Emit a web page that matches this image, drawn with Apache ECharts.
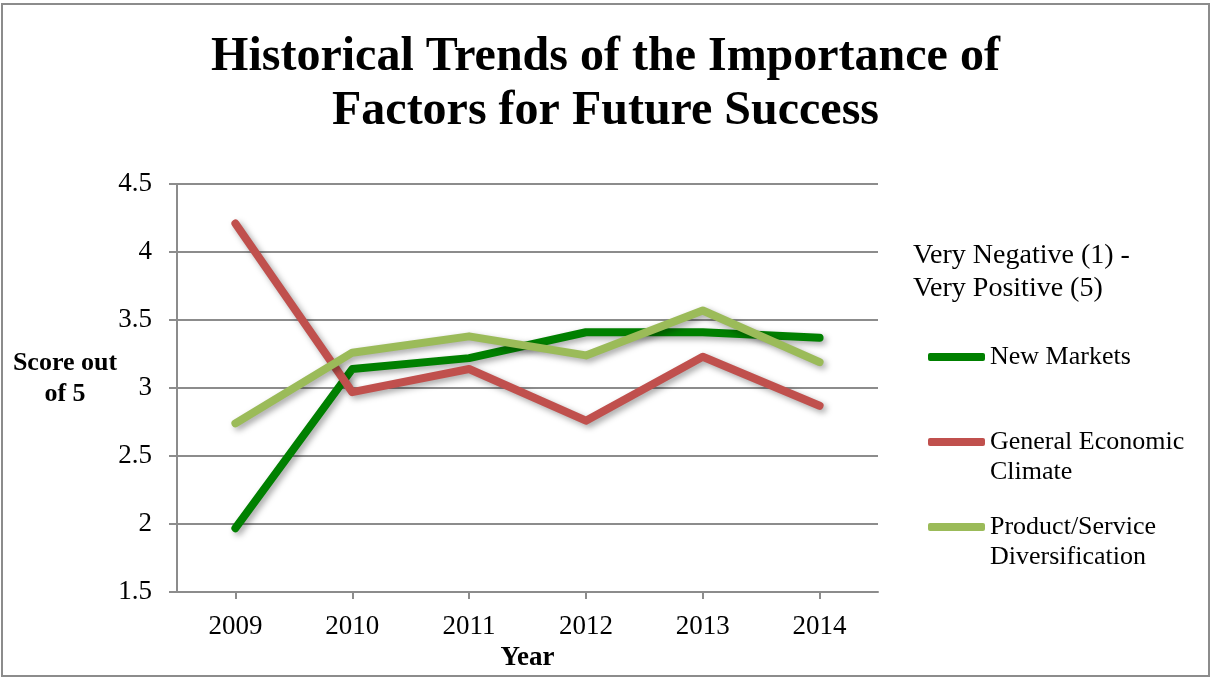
<!DOCTYPE html>
<html>
<head>
<meta charset="utf-8">
<title>Historical Trends of the Importance of Factors for Future Success</title>
<script src="https://cdn.jsdelivr.net/npm/echarts@6/dist/echarts.min.js"></script>
<style>
  html, body { margin: 0; padding: 0; background: #fff; }
  #chart { width: 1211px; height: 677px; }
</style>
</head>
<body>
<div id="chart"></div>
<script>
// Survey years
const years = ['2009', '2010', '2011', '2012', '2013', '2014'];

// Average score per factor, 1 = very negative, 5 = very positive
const newMarkets = [1.97, 3.14, 3.22, 3.41, 3.41, 3.37];
const economicClimate = [4.21, 2.97, 3.14, 2.76, 3.23, 2.87];
const diversification = [2.74, 3.26, 3.38, 3.24, 3.57, 3.19];

// Value axis range and step
const yMin = 1.5;
const yMax = 4.5;
const yStep = 0.5;

const SERIF = '"Liberation Serif", "Times New Roman", serif';

const seriesDefs = [
  { name: 'New Markets', lines: ['New Markets'], data: newMarkets, color: '#008000' },
  { name: 'General Economic Climate', lines: ['General Economic', 'Climate'], data: economicClimate, color: '#c0504d' },
  { name: 'Product/Service Diversification', lines: ['Product/Service', 'Diversification'], data: diversification, color: '#9bbb59' }
];

const chart = echarts.init(document.getElementById('chart'), null, { renderer: 'canvas' });

// One legend block per series so each entry sits at its own height.
// Two-line labels get a blank leading line so the swatch lines up with the first line.
const legendTops = [337, 392, 477];
const legends = seriesDefs.map((s, i) => {
  const text = s.lines.length > 1 ? ' \n' + s.lines.join('\n') : s.lines[0];
  return {
    data: [s.name],
    left: 923,
    top: legendTops[i],
    orient: 'vertical',
    itemWidth: 57,
    itemHeight: 8,
    icon: 'roundRect',
    selectedMode: false,
    formatter: () => text,
    textStyle: {
      fontFamily: SERIF,
      fontSize: 26,
      color: '#000',
      lineHeight: 30
    }
  };
});

const option = {
  backgroundColor: '#fff',
  animation: false,
  title: {
    text: 'Historical Trends of the Importance of\nFactors for Future Success',
    left: 'center',
    top: 26,
    textStyle: {
      fontFamily: SERIF,
      fontWeight: 'bold',
      fontSize: 48,
      lineHeight: 54,
      color: '#000'
    }
  },
  legend: legends,
  grid: {
    left: 177,
    right: 333,
    top: 184,
    bottom: 82,
    containLabel: false
  },
  xAxis: {
    type: 'category',
    data: years,
    boundaryGap: true,
    name: 'Year',
    nameLocation: 'middle',
    nameGap: 50,
    nameTextStyle: {
      fontFamily: SERIF,
      fontWeight: 'bold',
      fontSize: 27,
      color: '#000'
    },
    axisLine: { lineStyle: { color: '#8c8c8c', width: 2 } },
    axisTick: { show: true, alignWithLabel: true, length: 7, lineStyle: { color: '#8c8c8c', width: 2 } },
    axisLabel: {
      margin: 21,
      fontFamily: SERIF,
      fontSize: 27,
      color: '#000'
    },
    splitLine: { show: false }
  },
  yAxis: {
    type: 'value',
    min: yMin,
    max: yMax,
    interval: yStep,
    axisLine: { show: true, lineStyle: { color: '#8c8c8c', width: 2 } },
    axisTick: { show: true, length: 8, lineStyle: { color: '#8c8c8c', width: 2 } },
    axisLabel: {
      margin: 25,
      fontFamily: SERIF,
      fontSize: 27,
      color: '#000',
      formatter: v => String(v)
    },
    splitLine: { show: true, lineStyle: { color: '#8c8c8c', width: 2 } }
  },
  series: seriesDefs.map(s => ({
    name: s.name,
    type: 'line',
    data: s.data,
    symbol: 'none',
    smooth: false,
    color: s.color,
    lineStyle: {
      color: s.color,
      width: 8,
      cap: 'round',
      join: 'round',
      shadowColor: 'rgba(0,0,0,0.35)',
      shadowBlur: 6,
      shadowOffsetX: 3,
      shadowOffsetY: 3
    },
    emphasis: { disabled: true }
  })),
  graphic: [
    {
      type: 'rect',
      shape: { x: 2, y: 4, width: 1207, height: 672 },
      style: { fill: 'none', stroke: '#8c8c8c', lineWidth: 2 },
      silent: true
    },
    {
      type: 'text',
      x: 913,
      y: 272,
      style: {
        text: 'Very Negative (1) -\nVery Positive (5)',
        font: '28px ' + SERIF,
        lineHeight: 33,
        fill: '#000',
        textAlign: 'left',
        textVerticalAlign: 'middle'
      },
      silent: true
    },
    {
      type: 'text',
      x: 65,
      y: 379,
      style: {
        text: 'Score out\nof 5',
        font: 'bold 26px ' + SERIF,
        lineHeight: 31,
        fill: '#000',
        textAlign: 'center',
        textVerticalAlign: 'middle'
      },
      silent: true
    }
  ]
};

chart.setOption(option);
</script>
</body>
</html>
